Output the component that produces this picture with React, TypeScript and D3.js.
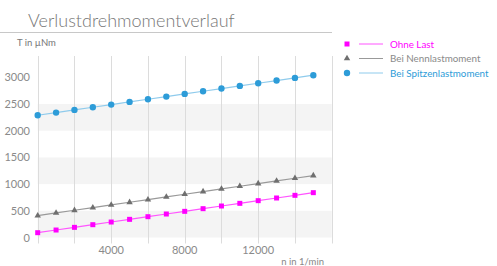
import React, { useEffect, useRef } from "react";
import * as d3 from "d3";

const speeds = [0, 1000, 2000, 3000, 4000, 5000, 6000, 7000, 8000, 9000, 10000, 11000, 12000, 13000, 14000, 15000];
const ohneLast = [90, 140, 190, 240, 290, 340, 390, 440, 490, 540, 590, 640, 690, 740, 790, 840];
const nennlast = [410, 460, 510, 560, 610, 660, 710, 760, 810, 860, 910, 960, 1010, 1060, 1110, 1160];
const spitzenlast = [2290, 2340, 2390, 2440, 2490, 2540, 2590, 2640, 2690, 2740, 2790, 2840, 2890, 2940, 2990, 3040];
const yTicks = [0, 500, 1000, 1500, 2000, 2500, 3000];
const xTicks = [4000, 8000, 12000];
const seriesNames = ["Ohne Last", "Bei Nennlastmoment", "Bei Spitzenlastmoment"];

const W = 497;
const H = 266;
const FONT = "Lato, 'Open Sans', sans-serif";

export default function App() {
  const ref = useRef<SVGSVGElement>(null);

  useEffect(() => {
    const svg = d3.select(ref.current);
    svg.selectAll("*").remove();

    const x = d3.scaleLinear().domain([0, 16000]).range([37.7, 331.7]);
    const y = d3.scaleLinear().domain([0, 3400]).range([237.5, 56]);

    // title
    svg.append("text")
      .attr("x", 28).attr("y", 27)
      .attr("font-family", FONT).attr("font-weight", 300)
      .attr("font-size", 18).attr("fill", "#777")
      .text("Verlustdrehmomentverlauf");
    svg.append("line")
      .attr("x1", 0).attr("x2", 332).attr("y1", 32.5).attr("y2", 32.5)
      .attr("stroke", "#c8c8c8");

    svg.append("text")
      .attr("x", 17).attr("y", 46)
      .attr("font-family", FONT).attr("font-size", 9.5).attr("fill", "#777")
      .text("T in µNm");

    // alternating bands
    const bands = [[0, 500], [1000, 1500], [2000, 2500]];
    svg.append("g").selectAll("rect").data(bands).join("rect")
      .attr("x", x(0)).attr("width", x(16000) - x(0))
      .attr("y", (d) => y(d[1])).attr("height", (d) => y(d[0]) - y(d[1]))
      .attr("fill", "#f4f4f4");

    // vertical grid
    svg.append("g").selectAll("line").data(d3.range(0, 16001, 2000)).join("line")
      .attr("x1", (d) => Math.round(x(d)) + 0.5).attr("x2", (d) => Math.round(x(d)) + 0.5)
      .attr("y1", y(3400)).attr("y2", y(0) + 6)
      .attr("stroke", "#dcdcdc");

    // y labels
    svg.append("g").selectAll("text").data(yTicks).join("text")
      .attr("x", 30).attr("y", (d) => y(d) + 4)
      .attr("text-anchor", "end")
      .attr("font-family", FONT).attr("font-size", 11).attr("fill", "#8a8a8a")
      .text((d) => String(d));

    // x labels
    svg.append("g").selectAll("text").data(xTicks).join("text")
      .attr("x", (d) => x(d)).attr("y", 254)
      .attr("text-anchor", "middle")
      .attr("font-family", FONT).attr("font-size", 11).attr("fill", "#8a8a8a")
      .text((d) => String(d));

    svg.append("text")
      .attr("x", 324).attr("y", 265)
      .attr("text-anchor", "end")
      .attr("font-family", FONT).attr("font-size", 9.5).attr("fill", "#888")
      .text("n in 1/min");

    const series = [
      { name: seriesNames[0], values: ohneLast, line: "#ff55ff", marker: "#ff00ff", text: "#ff00ff", sym: d3.symbolSquare, size: 25 },
      { name: seriesNames[1], values: nennlast, line: "#999999", marker: "#6f6f6f", text: "#8a8a8a", sym: d3.symbolTriangle, size: 18 },
      { name: seriesNames[2], values: spitzenlast, line: "#8fcbec", marker: "#2d9cd8", text: "#2d9cd8", sym: d3.symbolCircle, size: 32 },
    ];

    const line = d3.line<number>()
      .x((d, i) => x(speeds[i]))
      .y((d) => y(d));

    series.forEach((s, k) => {
      svg.append("path")
        .datum(s.values)
        .attr("fill", "none")
        .attr("stroke", s.line)
        .attr("stroke-width", 1.2)
        .attr("d", line);
      svg.append("g").selectAll("path").data(s.values).join("path")
        .attr("transform", (d, i) => `translate(${x(speeds[i])},${y(d)})`)
        .attr("d", d3.symbol().type(s.sym).size(s.size)())
        .attr("fill", s.marker);

      // legend
      const ly = 44 + k * 14.5;
      svg.append("path")
        .attr("transform", `translate(347,${ly})`)
        .attr("d", d3.symbol().type(s.sym).size(s.size)())
        .attr("fill", s.marker);
      svg.append("line")
        .attr("x1", 359).attr("x2", 383).attr("y1", ly).attr("y2", ly)
        .attr("stroke", s.line);
      svg.append("text")
        .attr("x", 390).attr("y", ly + 3.5)
        .attr("font-family", FONT).attr("font-size", 9.8).attr("fill", s.text)
        .text(s.name);
    });
  }, []);

  return <svg ref={ref} width={W} height={H} style={{ position: "absolute", left: 0, top: 0 }} />;
}
